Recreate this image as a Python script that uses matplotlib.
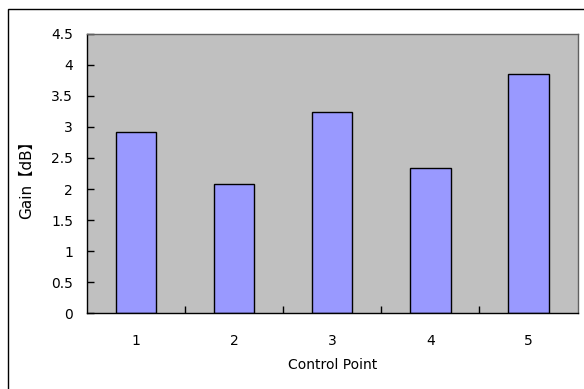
import matplotlib.pyplot as plt
from matplotlib.patches import Rectangle

plt.rcParams['font.family'] = ['DejaVu Sans', 'Noto Sans CJK JP']

# gain measured at each control point
points = [1, 2, 3, 4, 5]
gain = [2.92, 2.075, 3.24, 2.34, 3.86]
yticks = [0, 0.5, 1, 1.5, 2, 2.5, 3, 3.5, 4, 4.5]
ytick_labels = ["0", "0.5", "1", "1.5", "2", "2.5", "3", "3.5", "4", "4.5"]

fig = plt.figure(figsize=(5.84, 3.89), dpi=100)
ax = fig.add_axes([0.149, 0.195, 0.840, 0.718])
ax.set_facecolor("#C0C0C0")

ax.bar(points, gain, width=0.41, color="#9999FF", edgecolor="black", linewidth=1.0)

ax.set_xlim(0.5, 5.5)
ax.set_ylim(0, 4.5)
ax.set_yticks(yticks)
ax.set_yticklabels(ytick_labels)
ax.set_xticks(points)
ax.set_xticks([1.5, 2.5, 3.5, 4.5], minor=True)

ax.tick_params(axis="x", which="major", length=0, pad=15, labelsize=10)
ax.tick_params(axis="x", which="minor", direction="in", length=5, width=1)
ax.tick_params(axis="y", direction="in", length=5, width=1, pad=10, labelsize=10)

ax.set_xlabel("Control Point", fontsize=10, labelpad=7)
ax.set_ylabel("Gain【dB】", fontsize=11)
ax.yaxis.set_label_coords(-0.108, 0.49)

for side in ["left", "bottom"]:
    ax.spines[side].set_color("black")
    ax.spines[side].set_linewidth(1.0)
for side in ["top", "right"]:
    ax.spines[side].set_color("#606060")
    ax.spines[side].set_linewidth(1.0)

# chart area border
frame = Rectangle((8 / 584, -0.1), 1.2, 1.1 - 9 / 389, transform=fig.transFigure,
                  fill=False, edgecolor="black", linewidth=1.0, clip_on=False)
fig.add_artist(frame)

fig.savefig("out.png", dpi=100)
